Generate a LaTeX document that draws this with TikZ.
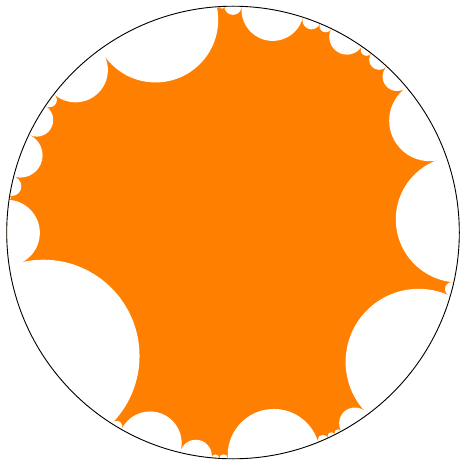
\documentclass[tikz,border=0pt]{standalone}
\definecolor{orng}{RGB}{255,128,0}
\begin{document}
\begin{tikzpicture}[x=1pt,y=-1pt]
\useasboundingbox (0,0) rectangle (461,462);
\def\R{226.3}
\coordinate (C) at (233,232.5);
\fill[orng] (C) circle[radius=\R pt];
\begin{scope}
\clip (C) circle[radius=\R pt];
\foreach \a/\b in {125.9/142.3, 142.3/146.0, 146.0/154.4, 154.4/165.7, 165.7/170.7, 170.7/171.7, 171.7/188.5, 188.5/237.6, 237.6/240.5, 240.5/256.5, 256.5/264.6, 264.6/266.5, 266.5/268.7, 268.7/292.1, 292.1/294.8, 294.8/296.8, 296.8/298.6, 298.6/306.55, 306.55/343.7, 343.7/347.3, 347.3/379.35, 379.35/399.9, 399.9/407.2, 407.2/412.3, 412.3/415.3, 415.3/424.25, 424.25/427.4, 427.4/432.0, 432.0/447.8, 447.8/452.2, 452.2/453.3, 453.3/454.1, 454.1/485.9}{
  \pgfmathsetmacro\m{(\a+\b)/2}
  \pgfmathsetmacro\r{2*\R*sin((\b-\a)/4)}
  \fill[white] (C) ++(\m:\R pt) circle[radius=\r pt];
}
\end{scope}
\draw[line width=0.9pt] (C) circle[radius=\R pt];
\end{tikzpicture}
\end{document}
